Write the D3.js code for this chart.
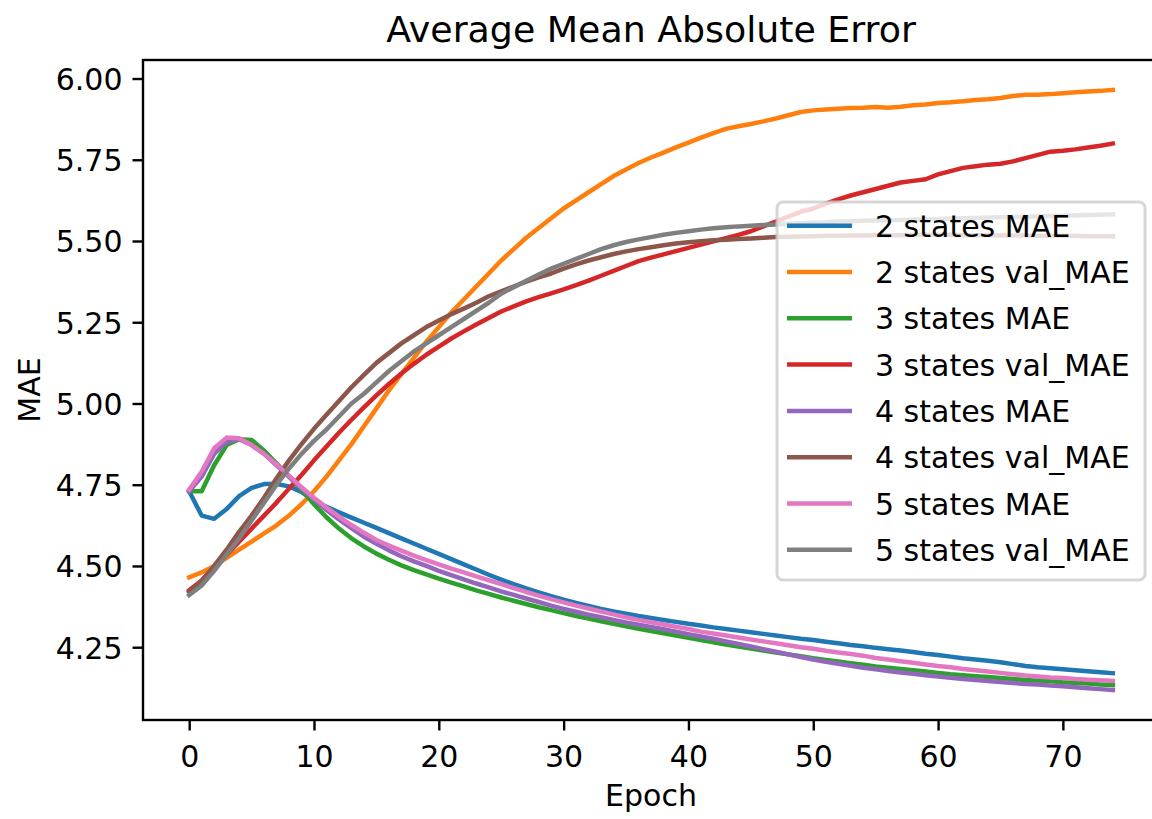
<!DOCTYPE html>
<html>
<head>
<meta charset="utf-8">
<script src="https://cdn.jsdelivr.net/npm/d3@7"></script>
<style>
  html, body { margin: 0; padding: 0; background: #fff; }
  svg { display: block; font-family: "DejaVu Sans", sans-serif; }
</style>
</head>
<body>
<svg id="chart" width="1152" height="819"></svg>
<script>
// Training history: mean absolute error per epoch for models with 2–5 hidden states
const xTicks = [0, 10, 20, 30, 40, 50, 60, 70];
const yTicks = [4.25, 4.50, 4.75, 5.00, 5.25, 5.50, 5.75, 6.00];

const seriesNames = [
  "2 states MAE", "2 states val_MAE",
  "3 states MAE", "3 states val_MAE",
  "4 states MAE", "4 states val_MAE",
  "5 states MAE", "5 states val_MAE"
];

const mae2 = [4.73,4.655,4.645,4.675,4.715,4.74,4.752,4.752,4.745,4.728,
  4.70,4.682,4.665,4.649,4.633,4.617,4.601,4.585,4.569,4.553,
  4.537,4.521,4.505,4.489,4.473,4.458,4.444,4.431,4.419,4.407,
  4.396,4.386,4.377,4.368,4.36,4.353,4.346,4.34,4.334,4.328,
  4.322,4.317,4.311,4.306,4.301,4.296,4.291,4.286,4.281,4.276,
  4.272,4.267,4.262,4.257,4.253,4.248,4.244,4.24,4.235,4.23,
  4.226,4.221,4.216,4.212,4.208,4.204,4.198,4.192,4.188,4.185,
  4.182,4.179,4.176,4.173,4.17];

const val2 = [4.465,4.48,4.50,4.525,4.55,4.575,4.60,4.625,4.655,4.69,
  4.73,4.775,4.825,4.875,4.93,4.985,5.04,5.09,5.14,5.19,
  5.235,5.28,5.32,5.36,5.40,5.44,5.475,5.51,5.54,5.57,
  5.60,5.625,5.65,5.675,5.70,5.72,5.74,5.757,5.772,5.788,
  5.803,5.818,5.832,5.845,5.853,5.86,5.868,5.877,5.887,5.897,
  5.902,5.905,5.907,5.909,5.91,5.912,5.91,5.913,5.918,5.92,
  5.925,5.927,5.93,5.934,5.936,5.94,5.946,5.95,5.95,5.952,
  5.955,5.958,5.96,5.962,5.965];

const mae3 = [4.73,4.73,4.81,4.872,4.89,4.888,4.855,4.815,4.775,4.735,
  4.69,4.65,4.615,4.585,4.56,4.538,4.519,4.502,4.487,4.474,
  4.461,4.449,4.437,4.425,4.414,4.403,4.393,4.383,4.373,4.364,
  4.355,4.346,4.338,4.33,4.322,4.314,4.307,4.3,4.293,4.286,
  4.279,4.272,4.265,4.258,4.252,4.246,4.24,4.234,4.228,4.222,
  4.216,4.211,4.206,4.201,4.196,4.191,4.187,4.183,4.179,4.175,
  4.171,4.167,4.164,4.161,4.158,4.155,4.152,4.149,4.147,4.145,
  4.142,4.14,4.138,4.135,4.133];

const val3 = [4.425,4.455,4.495,4.535,4.575,4.615,4.655,4.695,4.738,4.78,
  4.825,4.868,4.91,4.95,4.988,5.025,5.06,5.092,5.122,5.15,
  5.175,5.2,5.222,5.243,5.263,5.283,5.299,5.314,5.327,5.339,
  5.351,5.364,5.378,5.393,5.408,5.423,5.438,5.449,5.459,5.469,
  5.479,5.489,5.499,5.509,5.519,5.53,5.545,5.56,5.575,5.59,
  5.60,5.615,5.628,5.64,5.65,5.66,5.67,5.68,5.685,5.69,
  5.705,5.715,5.725,5.73,5.735,5.738,5.745,5.755,5.765,5.775,
  5.778,5.782,5.788,5.793,5.80];

const mae4 = [4.73,4.775,4.845,4.882,4.89,4.872,4.845,4.81,4.775,4.74,
  4.705,4.672,4.643,4.616,4.59,4.568,4.548,4.53,4.514,4.5,
  4.485,4.472,4.459,4.446,4.434,4.422,4.411,4.4,4.389,4.378,
  4.368,4.359,4.35,4.342,4.334,4.326,4.319,4.312,4.305,4.298,
  4.29,4.283,4.276,4.268,4.26,4.252,4.244,4.236,4.228,4.22,
  4.212,4.205,4.199,4.193,4.187,4.182,4.177,4.172,4.168,4.164,
  4.16,4.156,4.152,4.149,4.146,4.143,4.14,4.137,4.135,4.132,
  4.13,4.127,4.124,4.121,4.118];

const val4 = [4.42,4.455,4.50,4.55,4.605,4.655,4.71,4.77,4.825,4.875,
  4.922,4.965,5.008,5.05,5.088,5.125,5.155,5.185,5.21,5.235,
  5.255,5.275,5.292,5.31,5.33,5.345,5.36,5.375,5.388,5.40,
  5.415,5.428,5.44,5.45,5.46,5.468,5.475,5.481,5.487,5.492,
  5.496,5.499,5.502,5.504,5.506,5.508,5.51,5.512,5.513,5.514,
  5.515,5.516,5.516,5.517,5.517,5.518,5.518,5.518,5.519,5.519,
  5.519,5.519,5.518,5.518,5.518,5.517,5.517,5.517,5.516,5.516,
  5.516,5.516,5.515,5.515,5.515];

const mae5 = [4.735,4.79,4.862,4.895,4.893,4.872,4.845,4.812,4.778,4.742,
  4.71,4.68,4.652,4.626,4.602,4.58,4.563,4.547,4.532,4.518,
  4.505,4.492,4.48,4.468,4.456,4.444,4.432,4.42,4.409,4.398,
  4.388,4.378,4.369,4.36,4.351,4.342,4.334,4.327,4.32,4.313,
  4.306,4.298,4.292,4.286,4.28,4.274,4.268,4.262,4.256,4.25,
  4.245,4.239,4.234,4.229,4.224,4.217,4.212,4.207,4.202,4.197,
  4.192,4.188,4.183,4.179,4.175,4.171,4.167,4.163,4.16,4.157,
  4.155,4.152,4.15,4.148,4.146];

const val5 = [4.41,4.44,4.485,4.535,4.585,4.64,4.695,4.75,4.80,4.845,
  4.885,4.92,4.96,5.00,5.03,5.065,5.10,5.13,5.16,5.185,
  5.21,5.235,5.26,5.285,5.31,5.338,5.358,5.378,5.397,5.415,
  5.43,5.445,5.46,5.475,5.487,5.497,5.505,5.512,5.519,5.525,
  5.53,5.535,5.539,5.542,5.545,5.547,5.549,5.551,5.553,5.555,
  5.557,5.558,5.56,5.561,5.562,5.563,5.564,5.565,5.566,5.567,
  5.568,5.569,5.57,5.571,5.572,5.573,5.574,5.575,5.576,5.577,
  5.578,5.579,5.58,5.581,5.582];

const seriesValues = [mae2, val2, mae3, val3, mae4, val4, mae5, val5];
const palette = ["#1f77b4", "#ff7f0e", "#2ca02c", "#d62728",
                 "#9467bd", "#8c564b", "#e377c2", "#7f7f7f"];

// ---- layout ----
const plot = { left: 143, right: 1159, top: 60, bottom: 720 };
const FS = 30;            // tick / label / legend font size
const TITLE_FS = 36.3;
const LINE_W = 4.5;
const SPINE_W = 2.4;
const TICK_LEN = 10.5;

const svg = d3.select("#chart");

const x = d3.scaleLinear().domain([-3.7, 77.7]).range([plot.left, plot.right]);
const y = d3.scaleLinear().domain([4.026, 6.057]).range([plot.bottom, plot.top]);

svg.append("defs").append("clipPath").attr("id", "plot-clip")
  .append("rect")
  .attr("x", plot.left).attr("y", plot.top)
  .attr("width", plot.right - plot.left).attr("height", plot.bottom - plot.top);

// ---- series lines ----
const line = d3.line()
  .x((d, i) => x(i))
  .y(d => y(d));

const linesG = svg.append("g").attr("clip-path", "url(#plot-clip)");
seriesValues.forEach((vals, k) => {
  linesG.append("path")
    .datum(vals)
    .attr("d", line)
    .attr("fill", "none")
    .attr("stroke", palette[k])
    .attr("stroke-width", LINE_W)
    .attr("stroke-linejoin", "round")
    .attr("stroke-linecap", "square");
});

// ---- axes ----
const xAxis = d3.axisBottom(x).tickValues(xTicks).tickFormat(d3.format("d"))
  .tickSizeInner(TICK_LEN).tickSizeOuter(0).tickPadding(12);
const yAxis = d3.axisLeft(y).tickValues(yTicks).tickFormat(d3.format(".2f"))
  .tickSizeInner(TICK_LEN).tickSizeOuter(0).tickPadding(10);

const gx = svg.append("g").attr("transform", `translate(0,${plot.bottom})`).call(xAxis);
const gy = svg.append("g").attr("transform", `translate(${plot.left},0)`).call(yAxis);

[gx, gy].forEach(g => {
  g.select(".domain").remove();
  g.selectAll(".tick line").attr("stroke", "#000").attr("stroke-width", SPINE_W);
  g.selectAll(".tick text")
    .attr("fill", "#000")
    .style("font-family", "'DejaVu Sans', sans-serif")
    .style("font-size", FS + "px");
});
gx.selectAll(".tick text").attr("dy", null).attr("y", 47);
gy.selectAll(".tick text").attr("dy", "0.36em");

// frame (spines)
svg.append("rect")
  .attr("x", plot.left).attr("y", plot.top)
  .attr("width", plot.right - plot.left).attr("height", plot.bottom - plot.top)
  .attr("fill", "none").attr("stroke", "#000").attr("stroke-width", SPINE_W)
  .attr("stroke-linejoin", "miter");

// ---- title and axis labels ----
const cx = (plot.left + plot.right) / 2;
svg.append("text")
  .attr("x", cx).attr("y", plot.top - 18)
  .attr("text-anchor", "middle")
  .style("font-size", TITLE_FS + "px")
  .text("Average Mean Absolute Error");

svg.append("text")
  .attr("x", cx).attr("y", 806)
  .attr("text-anchor", "middle")
  .style("font-size", FS + "px")
  .text("Epoch");

svg.append("text")
  .attr("transform", `translate(40,${(plot.top + plot.bottom) / 2}) rotate(-90)`)
  .attr("text-anchor", "middle")
  .style("font-size", FS + "px")
  .text("MAE");

// ---- legend ----
const legend = { x: 777, y: 202, w: 368, h: 378, rowStart: 225.7, rowStep: 46.3 };
const lg = svg.append("g");
lg.append("rect")
  .attr("x", legend.x).attr("y", legend.y)
  .attr("width", legend.w).attr("height", legend.h)
  .attr("rx", 6).attr("ry", 6)
  .attr("fill", "#fff").attr("fill-opacity", 0.8)
  .attr("stroke", "#cccccc").attr("stroke-opacity", 0.8)
  .attr("stroke-width", 3);

seriesNames.forEach((name, k) => {
  const cy = legend.rowStart + k * legend.rowStep;
  lg.append("line")
    .attr("x1", legend.x + 10).attr("x2", legend.x + 75)
    .attr("y1", cy).attr("y2", cy)
    .attr("stroke", palette[k]).attr("stroke-width", LINE_W);
  lg.append("text")
    .attr("x", legend.x + 98).attr("y", cy + 11)
    .style("font-size", FS + "px")
    .text(name);
});
</script>
</body>
</html>
